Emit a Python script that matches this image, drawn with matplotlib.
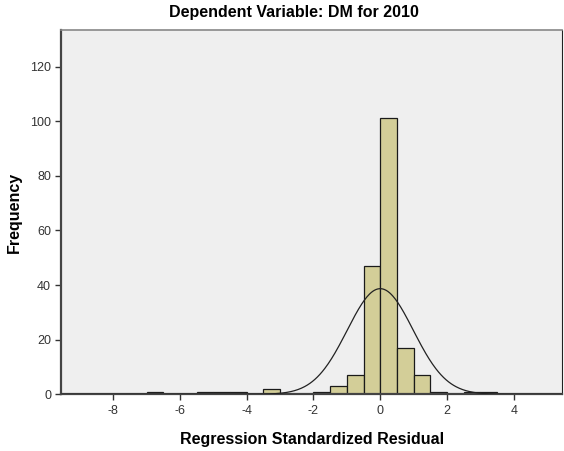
import numpy as np
import matplotlib
matplotlib.use("Agg")
import matplotlib.pyplot as plt

plt.rcParams["font.family"] = ["Liberation Sans", "DejaVu Sans"]
plt.rcParams["axes.unicode_minus"] = False

# histogram of standardized residuals, bin width 0.5
bin_left = [-7.0, -5.5, -5.0, -4.5, -3.5, -2.0, -1.5, -1.0, -0.5, 0.0, 0.5, 1.0, 1.5, 2.5, 3.0]
counts = [1, 1, 1, 1, 2, 1, 3, 7, 47, 101, 17, 7, 1, 1, 1]
bin_width = 0.5

# normal curve parameters
res_mean = 0.0
res_sd = 0.99
n_obs = sum(counts)

x_ticks = [-8, -6, -4, -2, 0, 2, 4]
y_ticks = [0, 20, 40, 60, 80, 100, 120]

fig = plt.figure(figsize=(5.64, 4.51), dpi=100)
ax = fig.add_axes([0.109, 0.1257, 0.8883, 0.8078])
ax.set_facecolor("#efefef")

ax.bar(bin_left, counts, width=bin_width, align="edge",
       color="#d3ce98", edgecolor="#1a1a1a", linewidth=0.9, zorder=2)

xs = np.linspace(-9.6, 5.5, 600)
pdf = n_obs * bin_width / (res_sd * np.sqrt(2 * np.pi)) * np.exp(-0.5 * ((xs - res_mean) / res_sd) ** 2)
ax.plot(xs, pdf, color="#222222", linewidth=0.9, zorder=3)

ax.set_xlim(-9.55, 5.46)
ax.set_ylim(0, 133.4)
ax.set_xticks(x_ticks)
ax.set_yticks(y_ticks)
ax.tick_params(axis="both", direction="out", length=4, width=1, colors="#333333",
               labelsize=9, labelcolor="#333333")

ax.spines["left"].set_color("#444444")
ax.spines["left"].set_linewidth(1.6)
ax.spines["bottom"].set_color("#444444")
ax.spines["bottom"].set_linewidth(1.6)
ax.spines["top"].set_color("#888888")
ax.spines["top"].set_linewidth(1.2)
ax.spines["right"].set_color("#222222")
ax.spines["right"].set_linewidth(0.8)

ax.set_xlabel("Regression Standardized Residual", fontsize=11.5, fontweight="bold", labelpad=11)
ax.set_ylabel("Frequency", fontsize=11.5, fontweight="bold", labelpad=6)
fig.text(0.521, 0.972, "Dependent Variable: DM for 2010", ha="center", va="center",
         fontsize=11.5, fontweight="bold")

fig.savefig("out.png", dpi=100)
